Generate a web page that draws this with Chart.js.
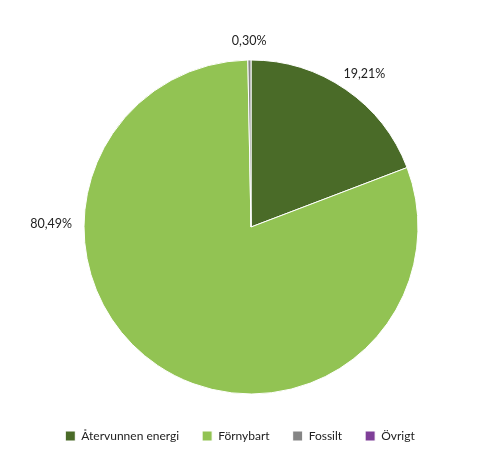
<!DOCTYPE html>
<html><head><meta charset="utf-8">
<script src="https://cdn.jsdelivr.net/npm/chart.js@4/dist/chart.umd.min.js"></script>
<style>html,body{margin:0;padding:0;background:#fff}#w{width:480px;height:476px}</style>
</head><body><div id="w"><canvas id="c"></canvas></div>
<script>
const categories = ["Återvunnen energi", "Förnybart", "Fossilt", "Övrigt"];
const values = [19.21, 80.49, 0.30, 0];
const valueLabels = ["19,21%", "80,49%", "0,30%", ""];
const colors = ["#4a6b28", "#92c353", "#858585", "#7f3f98"];

const labelPlugin = {
  id: 'sliceLabels',
  afterDatasetsDraw(chart, args, opts) {
    const ctx = chart.ctx;
    const meta = chart.getDatasetMeta(0);
    ctx.save();
    ctx.font = opts.font;
    ctx.fillStyle = '#222';
    ctx.textAlign = 'center';
    ctx.textBaseline = 'middle';
    meta.data.forEach((arc, i) => {
      const t = valueLabels[i];
      if (!t) return;
      let a = (arc.startAngle + arc.endAngle) / 2;
      if (opts.angles && opts.angles[i] != null) a = opts.angles[i] * Math.PI / 180;
      const w = ctx.measureText(t).width, h = 14;
      const r = arc.outerRadius + opts.offset;
      const x = arc.x + Math.cos(a) * r + Math.cos(a) * w / 2;
      const y = arc.y + Math.sin(a) * r + Math.sin(a) * h / 2;
      ctx.fillText(t, x, y);
    });
    ctx.restore();
  }
};

new Chart(document.getElementById('c'), {
  type: 'pie',
  data: {
    labels: categories,
    datasets: [{
      data: values,
      backgroundColor: colors,
      borderColor: '#ffffff',
      borderWidth: 1,
      radius: 167
    }]
  },
  options: {
    responsive: true,
    maintainAspectRatio: false,
    animation: false,
    layout: { padding: { top: 47, left: 18, right: 18, bottom: 24 } },
    plugins: {
      tooltip: { enabled: false },
      title: {
        display: true,
        position: 'left',
        fullSize: false,
        text: ' ',
        font: { size: 10, lineHeight: 1.2 },
        padding: 5
      },
      legend: {
        position: 'bottom',
        labels: {
          font: { family: 'Lato', size: 12 },
          color: '#222',
          boxWidth: 10,
          boxHeight: 10,
          padding: 23
        }
      },
      sliceLabels: { font: '12.5px Lato', offset: 12, angles: [null, 181, null, null] }
    }
  },
  plugins: [labelPlugin]
});
</script>
</body></html>
